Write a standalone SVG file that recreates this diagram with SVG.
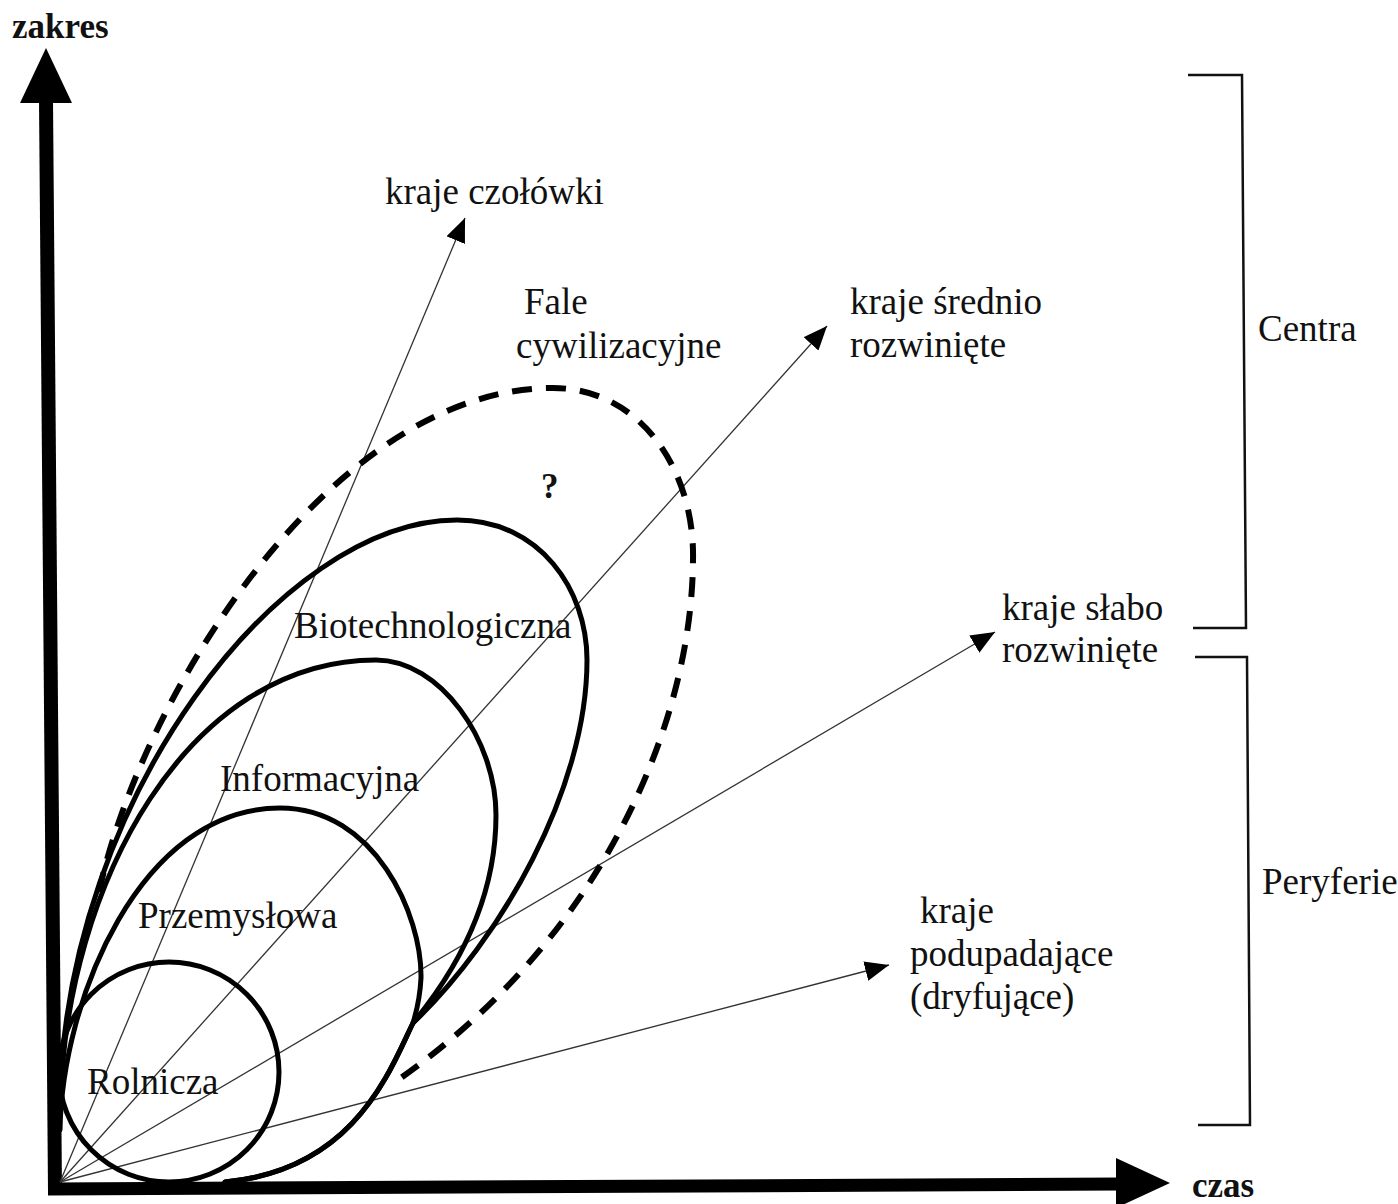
<svg xmlns="http://www.w3.org/2000/svg" width="1398" height="1204" viewBox="0 0 1398 1204">
<style>
  text { font-family: "Liberation Serif", "Times New Roman", serif; font-size: 37px; fill: #111; }
  .b { font-weight: bold; font-size: 35px; }
  .wave { fill: none; stroke: #000; stroke-width: 5; stroke-linejoin: round; stroke-linecap: round; }
  .dash { fill: none; stroke: #000; stroke-width: 6; stroke-dasharray: 20 14; }
  .ray { fill: none; stroke: #333; stroke-width: 1.3; marker-end: url(#ah); }
  .br { fill: none; stroke: #111; stroke-width: 2.5; }
</style>
<defs>
  <marker id="ah" viewBox="0 0 24 20" refX="24" refY="10" markerWidth="24" markerHeight="20" markerUnits="userSpaceOnUse" orient="auto">
    <path d="M0,0 L24,10 L0,20 Z" fill="#000"/>
  </marker>
</defs>
<rect width="1398" height="1204" fill="#fff"/>

<g id="axes">
  <line x1="46" y1="100" x2="55" y2="1192" stroke="#000" stroke-width="14"/>
  <polygon points="46,48 20,103 72,103" fill="#000"/>
  <line x1="48" y1="1189" x2="1120" y2="1184" stroke="#000" stroke-width="13"/>
  <polygon points="1116,1158 1170,1183 1116,1208" fill="#000"/>
  <text class="b" x="12" y="38">zakres</text>
  <text class="b" x="1192" y="1197">czas</text>
</g>

<g id="connectors">
  <line class="ray" x1="60" y1="1182" x2="465" y2="218"/>
  <line class="ray" x1="60" y1="1182" x2="827" y2="326"/>
  <line class="ray" x1="60" y1="1182" x2="995" y2="632"/>
  <line class="ray" x1="60" y1="1182" x2="889" y2="965"/>
</g>

<g id="wave-rolnicza">
  <circle class="wave" cx="169" cy="1072" r="110"/>
  <text x="87" y="1094">Rolnicza</text>
</g>
<g id="wave-przemyslowa">
  <path class="wave" d="M60,1130 C62,1000 140,808 280,808 C375,808 422,915 421,978 C420,998 417,1010 413,1023 C390,1070 355,1170 225,1182"/>
  <text x="138" y="928">Przemysłowa</text>
</g>
<g id="wave-informacyjna">
  <path class="wave" d="M60,1110 C65,880 190,660 376,660 C440,660 496,740 496,815 C496,890 465,960 413,1023 C390,1070 355,1170 225,1182"/>
  <text x="220" y="791">Informacyjna</text>
</g>
<g id="wave-biotechnologiczna">
  <path class="wave" d="M60,1100 C66,800 280,520 457,520 C540,520 587,590 587,660 C587,790 500,940 413,1023"/>
  <text x="294" y="638">Biotechnologiczna</text>
</g>
<g id="wave-future">
  <path class="dash" d="M99,892 C140,700 330,388 553,388 C640,388 695,470 693,560 C692,720 605,935 398,1080"/>
  <text class="b" x="541" y="498">?</text>
</g>

<g id="label-fale">
  <text x="524" y="314">Fale</text>
  <text x="516" y="358">cywilizacyjne</text>
</g>
<g id="label-czolowki">
  <text x="385" y="204">kraje czołówki</text>
</g>
<g id="label-srednio">
  <text x="850" y="314">kraje średnio</text>
  <text x="850" y="357">rozwinięte</text>
</g>
<g id="label-slabo">
  <text x="1002" y="620">kraje słabo</text>
  <text x="1002" y="662">rozwinięte</text>
</g>
<g id="label-podupadajace">
  <text x="920" y="923">kraje</text>
  <text x="910" y="966">podupadające</text>
  <text x="910" y="1009">(dryfujące)</text>
</g>

<g id="bracket-centra">
  <path class="br" d="M1188,75 L1242,75 L1246,628 L1193,628"/>
  <text x="1258" y="341">Centra</text>
</g>
<g id="bracket-peryferie">
  <path class="br" d="M1195,657 L1247,657 L1250,1125 L1198,1125"/>
  <text x="1262" y="894">Peryferie</text>
</g>
</svg>
